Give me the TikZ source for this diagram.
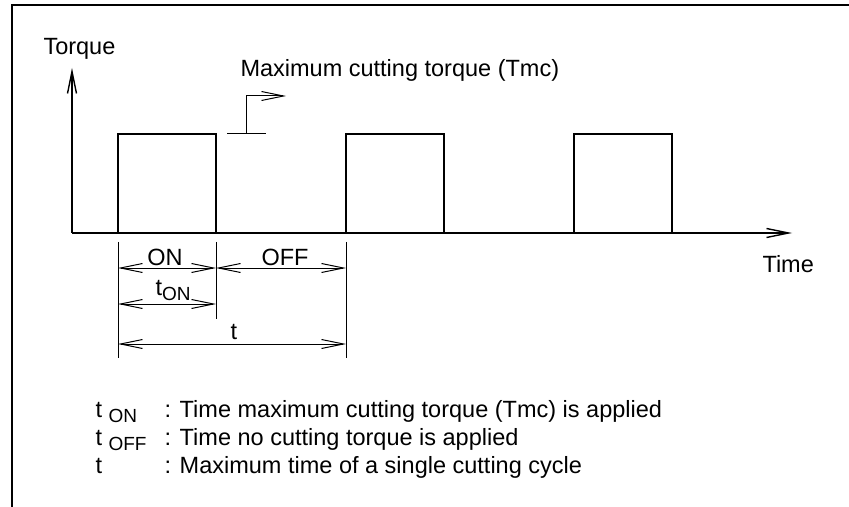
\documentclass[tikz,border=0pt]{standalone}
\usepackage{fontspec}
\setmainfont{Liberation Sans}
\usetikzlibrary{arrows.meta,positioning}
\tikzset{
  barb/.style={-{Straight Barb[length=11pt,width=4.5pt]}},
  dimline/.style={{Straight Barb[length=11pt,width=4.5pt]}-{Straight Barb[length=11pt,width=4.5pt]}},
  pulse/.style={line width=1.4pt},
  lbl/.style={inner sep=0pt, font=\fontsize{11.75}{14}\selectfont}
}
\newcommand{\lowsub}[1]{\raisebox{-2.5pt}{\fontsize{9.5}{10}\selectfont #1}}

\begin{document}
\begin{tikzpicture}[x=0.5pt,y=-0.5pt,line width=0.5pt]
    \useasboundingbox (0,0) rectangle (849,507);
    % frame
    \draw[line width=1pt] (12,507) -- (12,5) -- (849,5);
    % axes
    \coordinate (O) at (72,233);
    \coordinate (ytop) at (72,68);
    \coordinate (xend) at (792,233);
    \draw[barb,line width=0.7pt] (O) -- (ytop);
    \draw[barb,line width=0.7pt] (O) -- (xend);
    \node[lbl,anchor=base west] (torque) at (43,55) {Torque};
    \node[lbl,anchor=base west] (time) at (762,272) {Time};
    % torque pulses
    \draw[pulse] (118,233) foreach \s in {118,346,574} {
        -- (\s,233) -- (\s,134) -- (\s+98,134) -- (\s+98,233)} -- (768,233);
    % Tmc marker
    \coordinate (tmc) at (246,134);
    \coordinate (tmcup) at (246,96);
    \coordinate (tmcend) at (286,96);
    \draw (227,134) -- (266,134);
    \draw[barb] (tmc) -- (tmcup) -- (tmcend);
    \node[lbl,anchor=base west] (tmclabel) at (240,77) {Maximum cutting torque (Tmc)};
    % dimensions
    \coordinate (onL) at (118,268);
    \coordinate (onR) at (216,268);
    \coordinate (offR) at (346,268);
    \coordinate (tonL) at (118,304);
    \coordinate (tonR) at (216,304);
    \coordinate (tL) at (118,344);
    \coordinate (tR) at (346,344);
    \draw (118,242) -- (118,358);
    \draw (216,242) -- (216,319);
    \draw (346,242) -- (346,358);
    \draw[dimline] (onL) -- (onR);
    \draw[dimline] (onR) -- (offR);
    \draw[dimline] (tonL) -- (tonR);
    \draw[dimline] (tL) -- (tR);
    \node[lbl,anchor=base] (onlabel) at (165,265) {ON};
    \node[lbl,anchor=base] (offlabel) at (285,265) {OFF};
    \node[lbl,anchor=base west] (tonlabel) at (155,295) {t\lowsub{ON}};
    \node[lbl,anchor=base] (tlabel) at (234,339) {t};
    % legend
    \node[lbl,anchor=base west] (symon) at (95,417) {t \lowsub{ON}};
    \node[lbl,anchor=base west] (symoff) at (95,445) {t \lowsub{OFF}};
    \node[lbl,anchor=base west] (symt) at (95,473) {t};
    \node[lbl,anchor=base west] (texton) at (164,417) {: Time maximum cutting torque (Tmc) is applied};
    \node[lbl,anchor=base west] (textoff) at (164,445) {: Time no cutting torque is applied};
    \node[lbl,anchor=base west] (textt) at (164,473) {: Maximum time of a single cutting cycle};
\end{tikzpicture}
\end{document}
